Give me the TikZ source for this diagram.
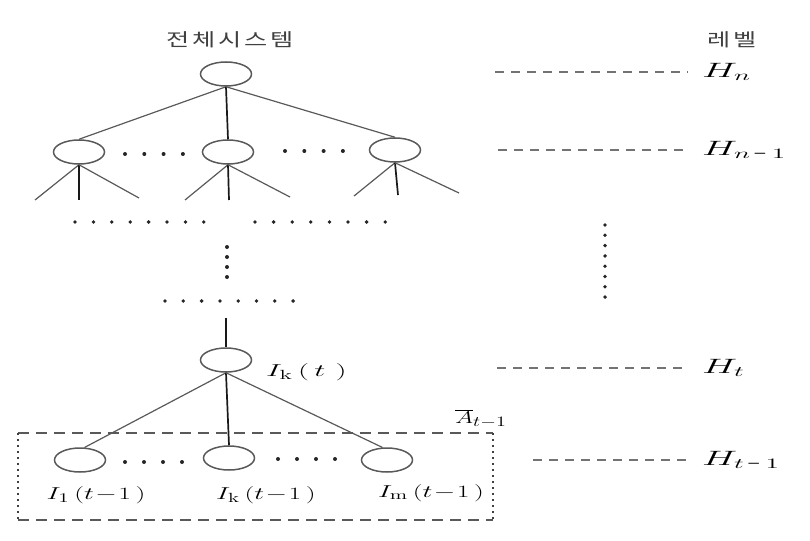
\documentclass[tikz,border=0pt]{standalone}
\usepackage{fontspec}
\newfontfamily\krfont{Noto Sans CJK KR}
\usetikzlibrary{shapes.geometric}
\tikzset{
 ell/.style={ellipse, draw=black!65, line width=1.5pt, minimum width=51pt, minimum height=24pt, inner sep=0pt},
 edge/.style={draw=black!65, line width=1.2pt},
 vedge/.style={draw=black!90, line width=1.7pt},
 lvl/.style={draw=black!55, line width=1.2pt, dash pattern=on 9pt off 7pt},
 lab/.style={inner sep=0pt, font=\fontsize{19}{22}\selectfont},
 hlab/.style={inner sep=0pt, anchor=west, font=\fontsize{22}{26}\selectfont},
 krlab/.style={inner sep=0pt, font=\fontsize{18}{22}\krfont\color{black!75}},
 dotm/.style={fill=black!85},
}
\begin{document}
\begin{tikzpicture}[x=1pt,y=-1pt]
\useasboundingbox (0,0) rectangle (810,540);
% titles
\node[krlab] (title) at (230,40) {\scalebox{1.4}[1]{전\hspace{2pt}체\hspace{2pt}시\hspace{2pt}스\hspace{2pt}템}};
\node[krlab] (level) at (732,40) {\scalebox{1.4}[1]{레\hspace{2pt}벨}};
% top tree
\node[ell] (root) at (226,74) {};
\node[ell] (a1) at (79,152) {};
\node[ell] (a2) at (228,152) {};
\node[ell] (a3) at (395,150) {};
\draw[edge] (root.south) -- (a1.north);
\draw[vedge] (root.south) -- (a2.north);
\draw[edge] (root.south) -- (a3.north);
% stubs
\coordinate (s11) at (35,200); \coordinate (s12) at (79,200); \coordinate (s13) at (139,198);
\coordinate (s21) at (185,200); \coordinate (s22) at (229,200); \coordinate (s23) at (290,197);
\coordinate (s31) at (354,196); \coordinate (s32) at (398,195); \coordinate (s33) at (459,193);
\draw[edge] (a1.south) -- (s11); \draw[vedge] (a1.south) -- (s12); \draw[edge] (a1.south) -- (s13);
\draw[edge] (a2.south) -- (s21); \draw[vedge] (a2.south) -- (s22); \draw[edge] (a2.south) -- (s23);
\draw[edge] (a3.south) -- (s31); \draw[vedge] (a3.south) -- (s32); \draw[edge] (a3.south) -- (s33);
% dots
\foreach \i in {0,...,3} \fill[dotm] (125+\i*19.3,154) circle (2pt);
\foreach \i in {0,...,3} \fill[dotm] (285+\i*19.3,151) circle (2pt);
\foreach \i in {0,...,7} \fill[dotm] (75+\i*18.4,222) circle (1.9pt);
\foreach \i in {0,...,7} \fill[dotm] (255+\i*18.6,222) circle (1.9pt);
\foreach \i in {0,...,3} \fill[dotm] (227,247+\i*10) circle (2pt);
\foreach \i in {0,...,7} \fill[dotm] (165+\i*18.3,301) circle (1.9pt);
\foreach \i in {0,...,7} \fill[dotm] (605,225+\i*10.3) circle (1.9pt);
% lower tree
\coordinate (up) at (226,318);
\node[ell] (it) at (226,360) {};
\node[lab, anchor=west] (itl) at (266,372) {\scalebox{1.8}[1]{$I_{\mathrm{k}}\,(\,t\,\,)$}};
\draw[vedge] (up) -- (it.north);
\node[ell] (b1) at (80,460) {};
\node[ell] (b2) at (229,458) {};
\node[ell] (b3) at (387,460) {};
\draw[edge] (it.south) -- (b1.70);
\draw[vedge] (it.south) -- (b2.north);
\draw[edge] (it.south) -- (b3.110);
\foreach \i in {0,...,3} \fill[dotm] (125+\i*19,462) circle (2pt);
\foreach \i in {0,...,3} \fill[dotm] (278+\i*19,459) circle (2pt);
\node[lab] (b1l) at (96,495) {\scalebox{1.6}[1]{$I_{\mathrm{1}}\,(t\!-\!1\,)$}};
\node[lab] (b2l) at (266,495) {\scalebox{1.6}[1]{$I_{\mathrm{k}}\,(t\!-\!1\,)$}};
\node[lab] (b3l) at (431,493) {\scalebox{1.6}[1]{$I_{\mathrm{m}}\,(t\!-\!1\,)$}};
% box
\coordinate (bx1) at (18,433); \coordinate (bx2) at (493,433);
\coordinate (bx3) at (493,520); \coordinate (bx4) at (18,520);
\draw[black!65, line width=1.3pt, dash pattern=on 11pt off 7pt] (bx1) -- (bx2);
\draw[black!65, line width=1.3pt, dash pattern=on 11pt off 7pt] (bx4) -- (bx3);
\draw[black!75, line width=1.7pt, dash pattern=on 2pt off 4pt] (bx1) -- (bx4);
\draw[black!75, line width=1.7pt, dash pattern=on 2pt off 4pt] (bx2) -- (bx3);
\node[lab, anchor=south] (al) at (481,428) {\scalebox{1.4}[1]{$\overline{A}_{t-1}$}};
% levels
\coordinate (l1a) at (495,72); \coordinate (l1b) at (688,72);
\coordinate (l2a) at (498,150); \coordinate (l2b) at (688,150);
\coordinate (l3a) at (497,368); \coordinate (l3b) at (689,368);
\coordinate (l4a) at (533,460); \coordinate (l4b) at (692,460);
\draw[lvl] (l1a) -- (l1b);
\draw[lvl] (l2a) -- (l2b);
\draw[lvl] (l3a) -- (l3b);
\draw[lvl] (l4a) -- (l4b);
\node[hlab] (hn) at (702,72) {\scalebox{1.9}[1]{$H_{n}$}};
\node[hlab] (hn1) at (702,150) {\scalebox{1.9}[1]{$H_{n\,\mbox{-}\,1}$}};
\node[hlab] (ht) at (702,368) {\scalebox{1.9}[1]{$H_{t}$}};
\node[hlab] (ht1) at (702,460) {\scalebox{1.9}[1]{$H_{t\,\mbox{-}\,1}$}};
\end{tikzpicture}
\end{document}
